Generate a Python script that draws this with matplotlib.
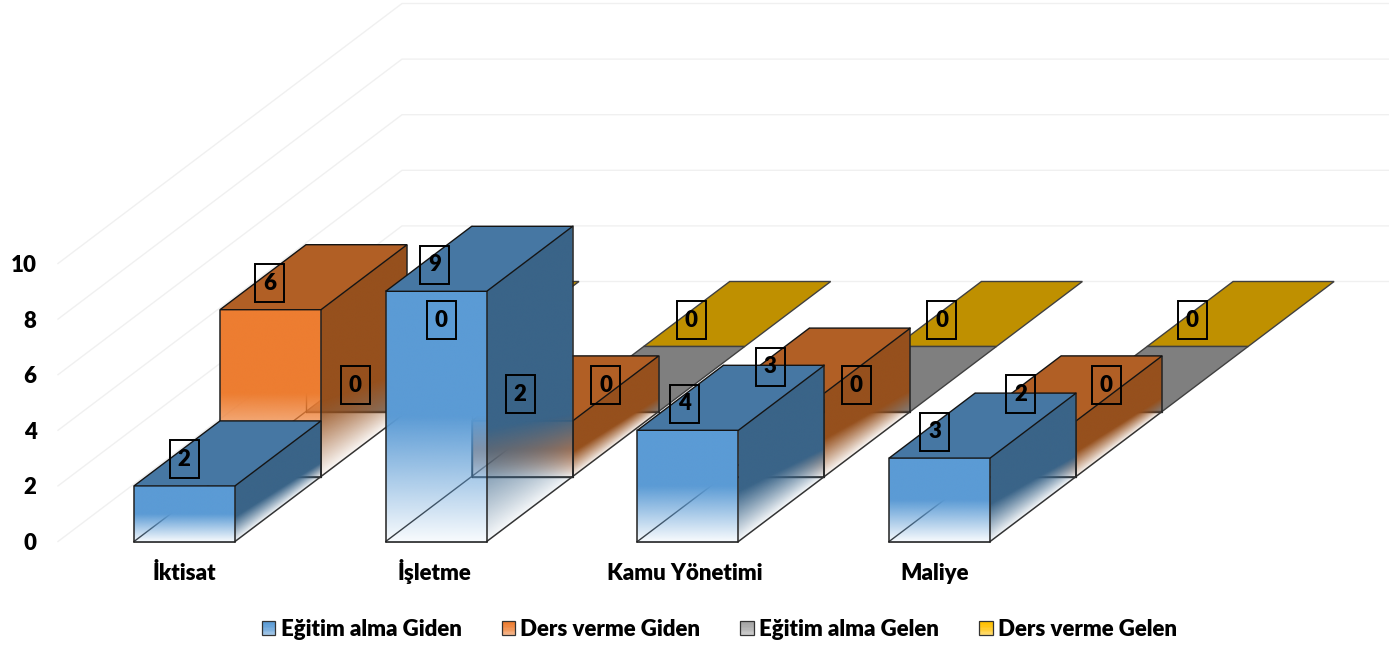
import numpy as np
import matplotlib
matplotlib.use('Agg')
import matplotlib.pyplot as plt
from matplotlib.patches import Polygon, Rectangle
from matplotlib.legend_handler import HandlerBase

plt.rcParams['font.family'] = ['Lato', 'DejaVu Sans']
plt.rcParams['font.weight'] = 800

categories = ['İktisat', 'İşletme', 'Kamu Yönetimi', 'Maliye']
series_names = ['Eğitim alma Giden', 'Ders verme Giden', 'Eğitim alma Gelen', 'Ders verme Gelen']
egitim_giden = [2, 9, 4, 3]
ders_giden = [6, 2, 3, 2]
egitim_gelen = [0, 0, 0, 0]
ders_gelen = [0, 0, 0, 0]
series = [egitim_giden, ders_giden, egitim_gelen, ders_gelen]
y_ticks = [0, 2, 4, 6, 8, 10]

front_cols = ['#5B9BD5', '#ED7D31', '#A5A5A5', '#FFC000']
top_cols = ['#4677A3', '#B15F25', '#7F7F7F', '#BF9000']
side_cols = ['#3A6488', '#96501D', '#6E6E6E', '#A67D00']

# oblique projection: x axis is in pixels, y axis in chart values
PX = 27.8           # pixels per value unit
Y0 = 541.5          # pixel row of value 0
DX = 86             # x shift of one series row
DV = 65 / PX        # value shift of one series row
BAR_W = 101
GROUP_X = 134
GROUP_STEP = 251.7
LABEL_X = 184
LABEL_STEP = 250.3
WALL_X = 58
EDGE = '#141414'
FS = 16

fig = plt.figure(figsize=(13.89, 6.45), dpi=100)
ax = fig.add_axes([0, 0, 1, 1])
ax.set_facecolor('white')


def rgba_of(col):
    return np.array(matplotlib.colors.to_rgb(col))


def fade_face(pts, col, alpha_fn, z):
    # gradient filled polygon, alpha worked out on a grid in data coordinates
    pts = np.array(pts)
    x0, x1 = pts[:, 0].min(), pts[:, 0].max()
    v0, v1 = pts[:, 1].min(), pts[:, 1].max()
    xx, vv = np.meshgrid(np.linspace(x0, x1, 220), np.linspace(v0, v1, 400))
    img = np.zeros(xx.shape + (4,))
    img[..., :3] = rgba_of(col)
    img[..., 3] = alpha_fn(xx, vv)
    im = ax.imshow(img, extent=(x0, x1, v0, v1), origin='lower', aspect='auto',
                   interpolation='bilinear', zorder=z)
    im.set_clip_path(Polygon(pts, transform=ax.transData))


def ramp(t, start):
    return np.clip(0.04 + 0.96 * t / start, 0.04, 1)


def line(xs, vs, z, col=EDGE, lw=1.0):
    ax.plot(xs, vs, color=col, lw=lw, zorder=z, solid_capstyle='round')


# walls
for v in y_ticks:
    ax.plot([WALL_X, WALL_X + 4 * DX, 1389], [v, v + 4 * DV, v + 4 * DV],
            color='#F0F0F0', lw=1.0, zorder=1)

z = 2
for row in [3, 2, 1, 0]:
    for g, cat in enumerate(categories):
        val = series[row][g]
        xl = GROUP_X + GROUP_STEP * g + DX * row
        xr = xl + BAR_W
        b = DV * row
        top = b + val
        if val > 0:
            # edges at the back and on the floor, seen through the fade
            line([xl, xl + DX], [b, b + DV], z, col='#333333')
            line([xl + DX, xr + DX], [b + DV, b + DV], z, col='#333333')
            line([xl + DX, xl + DX], [b + DV, top + DV], z)
            line([xr, xr + DX], [b, b + DV], z, col='#333333', lw=1.1)
            line([xl, xr], [b, b], z, col='#333333', lw=1.3)
            z += 1

            def side_alpha(xx, vv, xr=xr, b=b, val=val):
                d = (xx - xr) / DX
                t = (vv - b - d * DV) / val
                return ramp(t, 0.45 - 0.2 * d)
            fade_face([(xr, b), (xr + DX, b + DV), (xr + DX, top + DV), (xr, top)],
                      side_cols[row], side_alpha, z)
            z += 1

            def front_alpha(xx, vv, b=b, val=val):
                return ramp((vv - b) / val, 0.5)
            fade_face([(xl, b), (xr, b), (xr, top), (xl, top)],
                      front_cols[row], front_alpha, z)
            z += 1
            line([xl, xl], [b, top], z, col='#222222', lw=1.1)
            line([xr, xr], [b, top], z, col='#222222', lw=1.1)
            line([xr + DX, xr + DX], [b + DV, top + DV], z, col='#222222', lw=1.1)
        ax.add_patch(Polygon([(xl, top), (xr, top), (xr + DX, top + DV), (xl + DX, top + DV)],
                             facecolor=top_cols[row], edgecolor=EDGE if val > 0 else '#404040',
                             lw=1.0, zorder=z))
        z += 1

# value labels sit on top of everything, in empty boxes
for row in range(4):
    for g in range(len(categories)):
        val = series[row][g]
        cx = LABEL_X + LABEL_STEP * g + (DX - 0.3) * row
        cv = val + DV * row + 0.95
        ax.add_patch(Rectangle((cx - 14.5, cv - 19 / PX), 29, 38 / PX, fill=False,
                               edgecolor='black', lw=1.4, zorder=z))
        ax.text(cx, cv, str(val), ha='center', va='center', fontsize=FS,
                color='black', zorder=z + 1)

ax.set_xlim(0, 1389)
ax.set_ylim((Y0 - 645) / PX, Y0 / PX)

ax.set_yticks(y_ticks)
ax.set_yticklabels([str(v) for v in y_ticks])
ax.set_xticks([LABEL_X + LABEL_STEP * g for g in range(len(categories))])
ax.set_xticklabels(categories)
ax.spines['left'].set_position(('data', 38))
ax.spines['bottom'].set_position(('data', (Y0 - 578.5) / PX))
for s in ax.spines.values():
    s.set_visible(False)
# has to come after the spine move, which rebuilds the ticks
ax.tick_params(length=0, pad=1, labelsize=FS)
for lab in ax.get_xticklabels():
    lab.set_va('baseline')


class GradientSwatch(HandlerBase):
    def create_artists(self, legend, orig, xd, yd, width, height, fontsize, trans):
        col = rgba_of(orig.get_facecolor())
        arts = []
        n = 10
        for i in range(n):
            mix = 0.45 * (1 - i / (n - 1)) ** 1.5
            c = col * (1 - mix) + mix
            arts.append(Rectangle((-xd, -yd + height * i / n), width, height / n + 0.2,
                                  facecolor=c, edgecolor='none', transform=trans))
        arts.append(Rectangle((-xd, -yd), width, height, fill=False, edgecolor='#333333',
                              lw=0.9, transform=trans))
        return arts


handles = [Rectangle((0, 0), 1, 1, facecolor=c) for c in front_cols]
leg = ax.legend(handles, series_names, ncol=4, loc='center', frameon=False,
                bbox_to_anchor=(719.5 / 1389, (645 - 629.5) / 645), bbox_transform=fig.transFigure,
                fontsize=FS, handlelength=0.6, handleheight=0.6, handletextpad=0.25,
                columnspacing=1.8, borderpad=0, borderaxespad=0,
                handler_map={Rectangle: GradientSwatch()})

fig.savefig('out.png', dpi=100, facecolor='white')
